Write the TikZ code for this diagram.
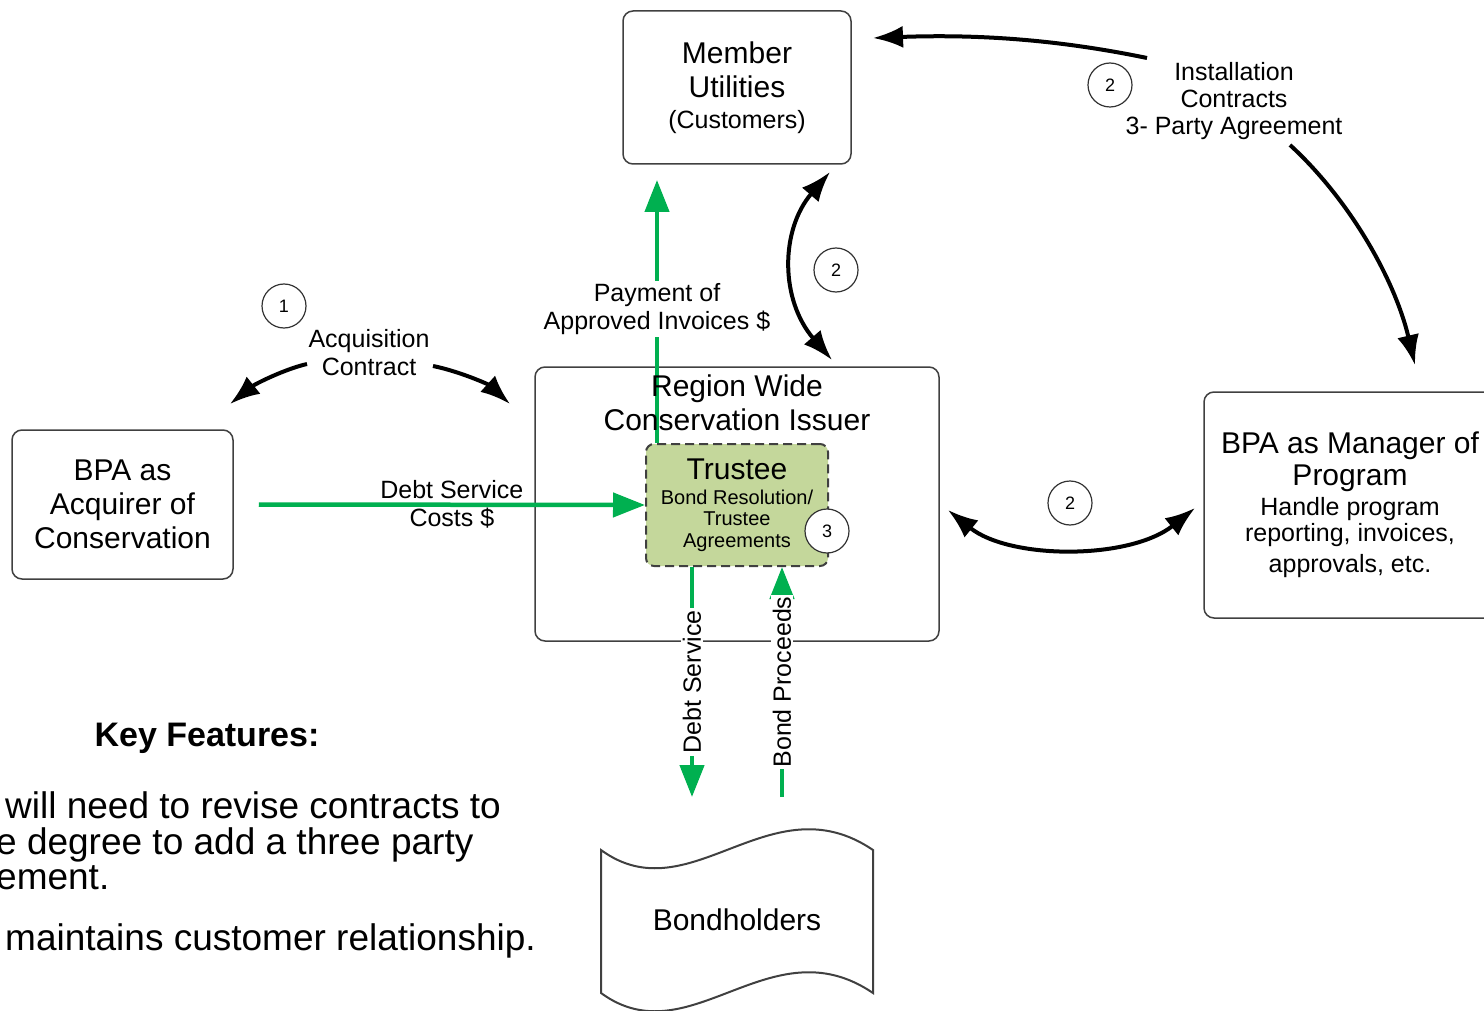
\documentclass[tikz,border=0pt]{standalone}
\usepackage{fontspec}
\setmainfont{Liberation Sans}
\usepackage{tikz}
\usetikzlibrary{arrows.meta}
\usetikzlibrary{calc}

\definecolor{flowgreen}{HTML}{00B050}
\definecolor{trusteegreen}{HTML}{C4D79B}
\definecolor{boxgray}{HTML}{404040}

\newcommand{\partyfont}{\fontsize{30}{34}\selectfont}
\newcommand{\labelfont}{\fontsize{25}{28}\selectfont}
\newcommand{\trusteefont}{\fontsize{20}{22}\selectfont}
\newcommand{\numfont}{\fontsize{18}{20}\selectfont}
\newcommand{\notefont}{\fontsize{37}{38}\selectfont}

\tikzset{
	party/.style={draw=boxgray, line width=1.5pt, rounded corners=10pt, align=center, font=\partyfont, inner sep=0pt},
	trusteebox/.style={draw=boxgray, dash pattern=on 9pt off 5pt, fill=trusteegreen, line width=2pt, rounded corners=8pt,
		minimum width=182pt, minimum height=122pt, align=center, font=\trusteefont, inner sep=0pt},
	numcircle/.style={circle, draw=black!80, line width=1.2pt, fill=white, minimum size=44pt, inner sep=0pt, font=\numfont},
	flowlabel/.style={align=center, font=\labelfont, inner sep=2pt}
}
\tikzset{
	edge/.style={-{Latex[length=30pt,width=22pt]}, line width=4pt},
	twoway/.style={{Latex[length=30pt,width=22pt]}-{Latex[length=30pt,width=22pt]}, line width=4pt},
	money/.style={-{Triangle[length=32pt,width=24pt]}, draw=flowgreen, line width=4.5pt}
}

\begin{document}
\begin{tikzpicture}[x=1pt, y=-1pt]
\useasboundingbox (0,0) rectangle (1484,1011);

\node[party, minimum width=228pt, minimum height=153pt] (member) at (737,87.5) {Member\\Utilities\\[-3pt]{\fontsize{25}{28}\selectfont (Customers)}};
\node[party, minimum width=221pt, minimum height=149pt] (acquirer) at (122.5,504.5) {BPA as\\Acquirer of\\Conservation};
\node[party, minimum width=292pt, minimum height=226pt] (manager) at (1350,505) {BPA as Manager of\\[-2pt]Program\\[-4pt]{\labelfont Handle program}\\[-8pt]{\labelfont reporting, invoices,}\\[-3pt]{\labelfont approvals, etc.}};
\node[party, minimum width=404pt, minimum height=274pt] (issuer) at (737,504) {};
\node[trusteebox] (trustee) at (737,505) {{\partyfont Trustee}\\[3pt]Bond Resolution/\\[-1pt]Trustee\\Agreements};

\draw[line width=2pt, draw=boxgray] (601,850) .. controls (690,915) and (770,780) .. (873,850) -- (873,993)
	.. controls (770,923) and (690,1058) .. (601,993) -- cycle;
\node[font=\partyfont] (bondholders) at (737,920) {Bondholders};

\coordinate (payTip) at (657,180);
\coordinate (dsEnd) at (692,797);
\coordinate (bpStart) at (782,797);

\draw[money] (payTip |- trustee.north) to node[flowlabel, fill=white, pos=0.51] (paylabel) {Payment of\\Approved Invoices \$} (payTip);
\draw[money] ([xshift=25pt]acquirer.east) to node[flowlabel] (dsclabel) {Debt Service\\Costs \$} (trustee.west);
\draw[money] (dsEnd |- trustee.south) to node[flowlabel, fill=white, rotate=90] (dslabel) {Debt Service} (dsEnd);
\draw[money] (bpStart) to node[flowlabel, fill=white, rotate=90] (bplabel) {Bond Proceeds} (bpStart |- trustee.south);

\node[font=\partyfont, align=center] (issuertitle) at (737,403) {Region Wide\\Conservation Issuer};

\node[flowlabel] (acqlabel) at (369,353) {Acquisition\\Contract};
\node[flowlabel, font=\fontsize{25}{27}\selectfont] (instlabel) at (1234,101) {Installation\\Contracts\\3- Party Agreement};

\coordinate (acqL1) at (307,364);
\coordinate (acqL2) at (230,404);
\coordinate (acqR1) at (433,366);
\coordinate (acqR2) at (510,404);
\coordinate (muTop) at (830,172);
\coordinate (muBot) at (832,360);
\coordinate (instA) at (1147,58);
\coordinate (instTip) at (873,38);
\coordinate (instB) at (1290,145);
\coordinate (instTip2) at (1415,365);
\coordinate (mgrL) at (948,510);
\coordinate (mgrR) at (1195,508);

\draw[edge] (acqL1) .. controls (285,369) and (255,384) .. (acqL2);
\draw[edge] (acqR1) .. controls (458,371) and (488,384) .. (acqR2);
\draw[twoway] (muTop) .. controls (780,230) and (780,300) .. (muBot);
\draw[edge] (instA) .. controls (1060,40) and (980,34) .. (instTip);
\draw[edge] (instB) .. controls (1350,200) and (1395,280) .. (instTip2);
\draw[twoway] (mgrL) .. controls (1010,560) and (1130,560) .. (mgrR);

\node[numcircle] (one) at (284,306) {1};
\node[numcircle] (twomember) at (836,270) {2};
\node[numcircle] (twoinstall) at (1110,85) {2};
\node[numcircle] (twomanager) at (1070,503) {2};
\node[numcircle] (three) at (827,531) {3};

\node[font=\fontsize{34}{36}\selectfont\bfseries] (keyhead) at (207,738) {Key Features:};
\node[font=\notefont, anchor=base west, inner sep=0pt] (kfone) at (5,818) {will need to revise contracts to};
\node[font=\notefont, anchor=base west, inner sep=0pt] (kftwo) at (-4,854) {e degree to add a three party};
\node[font=\notefont, anchor=base west, inner sep=0pt] (kfthree) at (-4,889) {ement.};
\node[font=\notefont, anchor=base west, inner sep=0pt] (kffour) at (5,950) {maintains customer relationship.};
\end{tikzpicture}
\end{document}
